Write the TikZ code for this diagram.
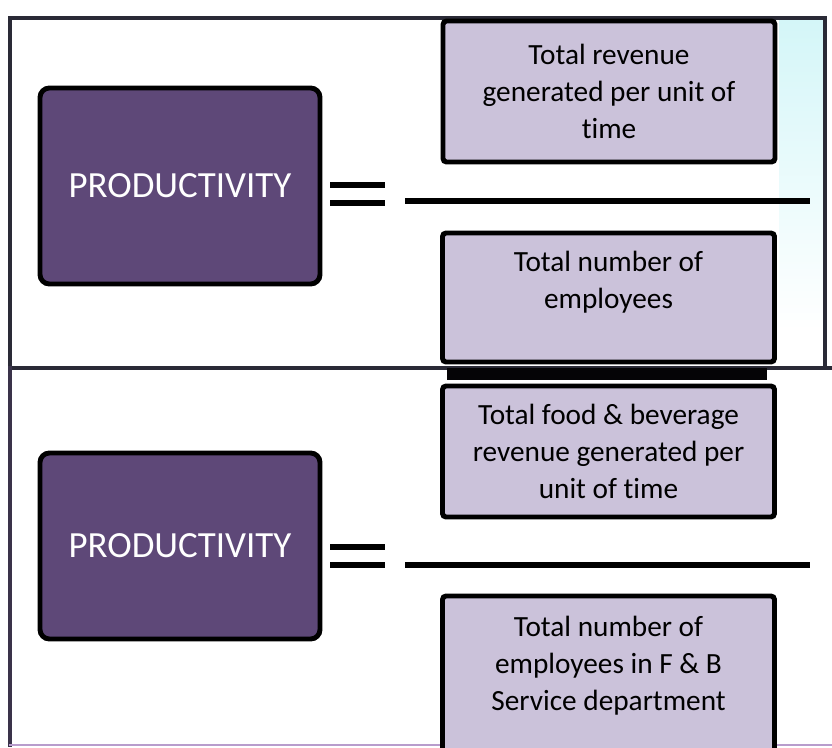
\documentclass[tikz,border=0pt]{standalone}
\usepackage{fontspec}
\setmainfont{Carlito}[Ligatures=NoCommon]
\definecolor{prodpurple}{HTML}{5E4878}
\definecolor{boxlilac}{HTML}{CBC2DA}
\definecolor{framegray}{HTML}{2A2A36}
\definecolor{framepurple}{HTML}{B89CCC}
\definecolor{tintcyan}{HTML}{D4F6F8}

\begin{document}
\begin{tikzpicture}[x=0.03cm,y=-0.03cm,line cap=rect]
  \tikzstyle{prodbox}=[draw=black,line width=4.2pt,rounded corners=8pt,fill=prodpurple,text=white,font=\fontsize{31.5}{36}\selectfont,minimum width=8.4cm];
  \tikzstyle{ratiobox}=[draw=black,line width=4.2pt,rounded corners=3pt,fill=boxlilac,align=center,font=\fontsize{25}{31.5}\selectfont,minimum width=9.96cm];
  \tikzstyle{bar}=[line width=4.4pt,black];

  \clip (0,0) rectangle (832,747);
  \fill[white] (0,0) rectangle (832,747);

  % cyan tint
  \shade[top color=tintcyan,bottom color=white] (779,20) rectangle (823,330);

  % frame
  \draw[line width=3pt,framegray] (10,18) rectangle (825,368);
  \draw[line width=3pt,framegray] (10,368) -- (832,368);
  \draw[line width=3.4pt,framegray!70!prodpurple] (10,368) -- (10,745);
  \draw[line width=2pt,framepurple] (10,745) -- (832,745);

  % upper ratio
  \node[prodbox,minimum height=5.88cm] (prod1) at (180,186) {PRODUCTIVITY};
  \node[ratiobox,minimum height=4.23cm] (num1) at (609,91.5)
    {Total revenue\\generated per unit of\\time};
  \node[ratiobox,minimum height=3.87cm,text depth=30pt] (den1) at (608.5,297.5)
    {Total number of\\employees};
  \draw[bar] (333,185) -- (382,185);
  \draw[bar] (333,203) -- (382,203);
  \draw[bar] (408,201) -- (807,201);
  \fill[black!95!prodpurple] (447,368) rectangle (767,380);

  % lower ratio
  \node[prodbox,minimum height=5.58cm] (prod2) at (180,546) {PRODUCTIVITY};
  \node[ratiobox,minimum height=3.93cm] (num2) at (608.5,451.5)
    {Total food \& beverage\\revenue generated per\\unit of time};
  \node[ratiobox,minimum height=4.83cm,text depth=22pt] (den2) at (608.5,676.5)
    {Total number of\\employees in F \& B\\Service department};
  \draw[bar] (333,547) -- (382,547);
  \draw[bar] (333,565) -- (382,565);
  \draw[bar] (408,565) -- (807,565);
\end{tikzpicture}
\end{document}
